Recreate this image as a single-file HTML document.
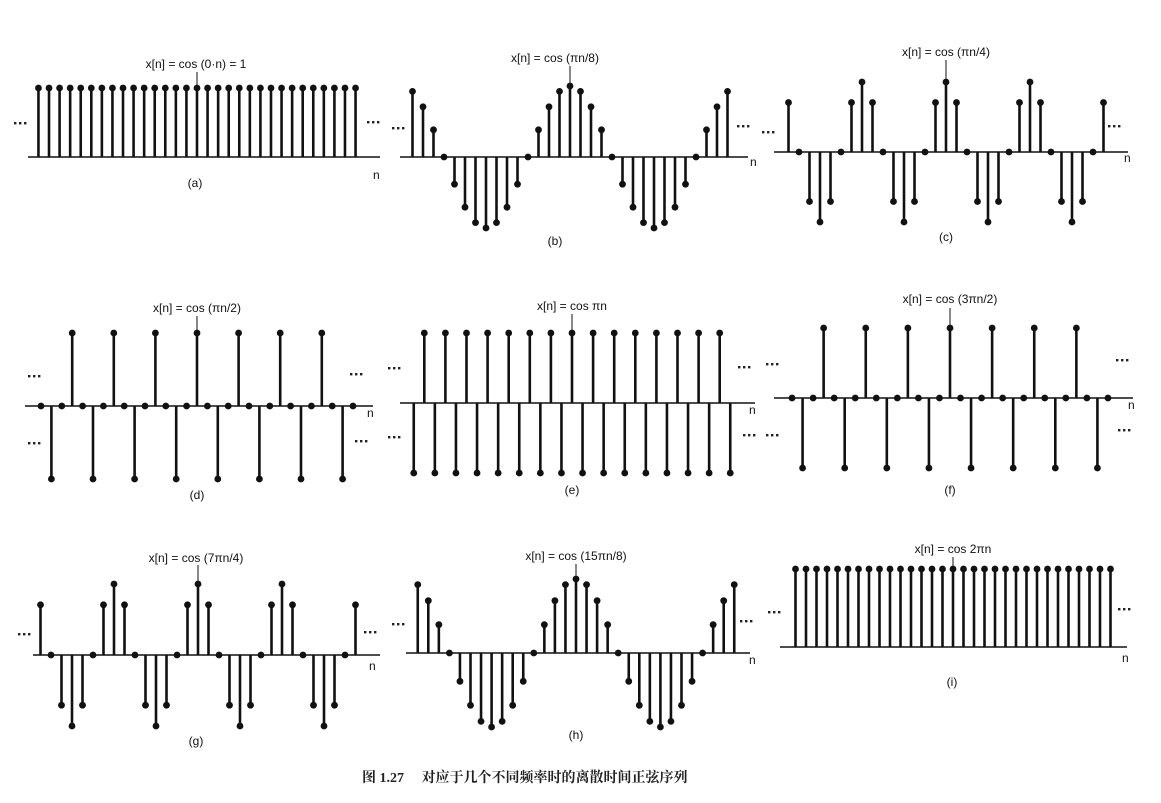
<!DOCTYPE html>
<html><head><meta charset="utf-8">
<style>
html,body{margin:0;padding:0;background:#fff;}
svg{display:block;}
text{font-family:"Liberation Sans",sans-serif;font-size:12px;fill:#111;}
.cap{font-family:"Liberation Serif","Noto Serif CJK SC",serif;font-size:14px;font-weight:bold;fill:#222;}
</style></head>
<body>
<svg id="s" width="1161" height="803" viewBox="0 0 1161 803" xmlns="http://www.w3.org/2000/svg">
<g id="g"></g>
<text x="196" y="68" text-anchor="middle">x[n] = cos (0·n) = 1</text>
<text x="555" y="62" text-anchor="middle">x[n] = cos (πn/8)</text>
<text x="946" y="56" text-anchor="middle">x[n] = cos (πn/4)</text>
<text x="197" y="312" text-anchor="middle">x[n] = cos (πn/2)</text>
<text x="572" y="310" text-anchor="middle">x[n] = cos πn</text>
<text x="950" y="303" text-anchor="middle">x[n] = cos (3πn/2)</text>
<text x="196" y="562" text-anchor="middle">x[n] = cos (7πn/4)</text>
<text x="576" y="560" text-anchor="middle">x[n] = cos (15πn/8)</text>
<text x="953" y="553" text-anchor="middle">x[n] = cos 2πn</text>

<text x="195" y="187" text-anchor="middle">(a)</text>
<text x="555" y="245" text-anchor="middle">(b)</text>
<text x="946" y="241" text-anchor="middle">(c)</text>
<text x="197" y="499" text-anchor="middle">(d)</text>
<text x="572" y="494" text-anchor="middle">(e)</text>
<text x="950" y="494" text-anchor="middle">(f)</text>
<text x="196" y="745" text-anchor="middle">(g)</text>
<text x="576" y="739" text-anchor="middle">(h)</text>
<text x="952" y="686" text-anchor="middle">(i)</text>

<text x="373" y="179">n</text>
<text x="750" y="166">n</text>
<text x="1124" y="162">n</text>
<text x="367" y="417">n</text>
<text x="749" y="414">n</text>
<text x="1128" y="409">n</text>
<text x="369" y="670">n</text>
<text x="749" y="664">n</text>
<text x="1122" y="662">n</text>

<text x="362" y="782" class="cap">图 1.27　 对应于几个不同频率时的离散时间正弦序列</text>
</svg>
<script>
var g=document.getElementById('g'),NS='http://www.w3.org/2000/svg';
function el(n,a){var e=document.createElementNS(NS,n);for(var k in a)e.setAttribute(k,a[k]);g.appendChild(e);return e;}
function line(x1,y1,x2,y2,w){el('line',{x1:x1,y1:y1,x2:x2,y2:y2,stroke:'#111','stroke-width':w||2.4});}
function dots(x,y){for(var i=0;i<3;i++)el('rect',{x:x+i*5,y:y-1,width:2.4,height:2.4,fill:'#222'});}
function panel(p){
  line(p.ax0,p.ay,p.ax1,p.ay,1.6);
  for(var k=-15;k<=15;k++){
    var x=p.c+k*p.dx, v=p.f(k); if(Math.abs(v)<1e-6)v=0;
    var y=p.ay-v*p.amp;
    if(Math.abs(v)>0.05) line(x,p.ay,x,y,2.6);
    el('circle',{cx:x,cy:y,r:3.4,fill:'#111'});
  }
  line(p.c,p.ly0,p.c,p.ly1,1);
  p.d.forEach(function(d){dots(d[0],d[1]);});
}
var pi=Math.PI;
panel({ax0:28,ax1:380,ay:157,c:197,dx:10.57,amp:69,f:function(){return 1;},ly0:72,ly1:88,d:[[14,123],[367,122]]});
panel({ax0:400,ax1:748,ay:157,c:570,dx:10.5,amp:71,f:function(k){return Math.cos(pi*k/8);},ly0:66,ly1:86,d:[[392,128],[737,126]]});
panel({ax0:774,ax1:1128,ay:152,c:946,dx:10.5,amp:70,f:function(k){return Math.cos(pi*k/4);},ly0:60,ly1:82,d:[[762,132],[1108,126]]});
panel({ax0:25,ax1:373,ay:406,c:197,dx:10.4,amp:73,f:function(k){return Math.cos(pi*k/2);},ly0:316,ly1:333,d:[[28,376],[350,374],[28,443],[355,441]]});
panel({ax0:400,ax1:755,ay:403,c:572,dx:10.55,amp:70,f:function(k){return Math.cos(pi*k);},ly0:314,ly1:333,d:[[388,368],[738,367],[388,437],[743,435]]});
panel({ax0:774,ax1:1133,ay:398,c:950,dx:10.53,amp:70,f:function(k){return Math.cos(3*pi*k/2);},ly0:308,ly1:328,d:[[766,364],[1116,360],[766,435],[1118,430]]});
panel({ax0:33,ax1:380,ay:655,c:198,dx:10.5,amp:71,f:function(k){return Math.cos(7*pi*k/4);},ly0:565,ly1:583,d:[[18,634],[364,632]]});
panel({ax0:406,ax1:750,ay:653,c:576,dx:10.55,amp:74,f:function(k){return Math.cos(15*pi*k/8);},ly0:564,ly1:578,d:[[392,624],[740,621]]});
panel({ax0:780,ax1:1127,ay:647,c:953,dx:10.5,amp:78,f:function(){return 1;},ly0:557,ly1:569,d:[[768,612],[1118,609]]});
</script>
</body></html>
